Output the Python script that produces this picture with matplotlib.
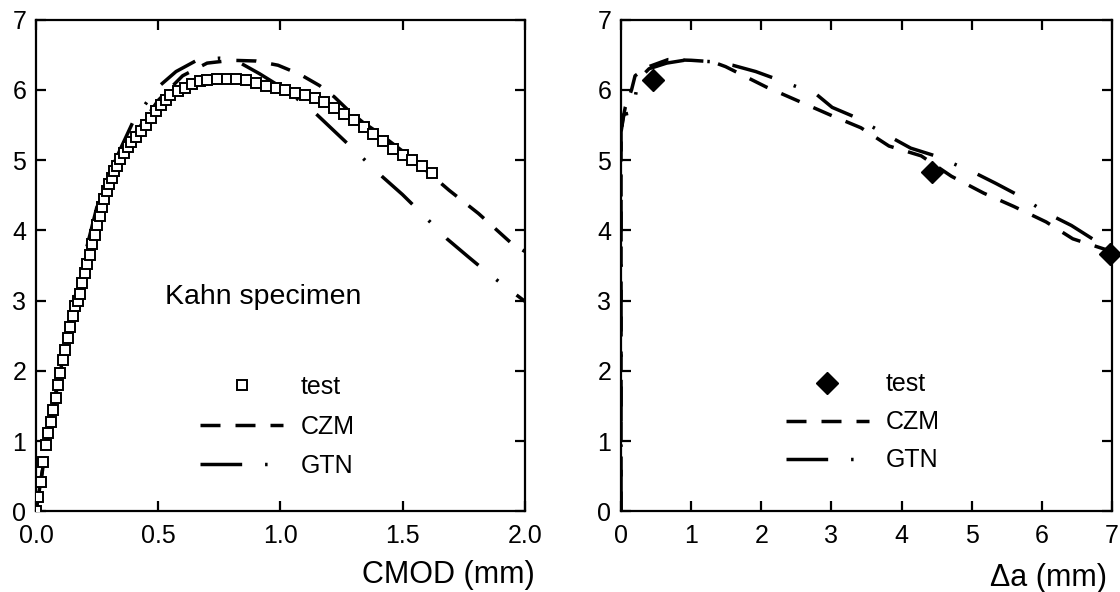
import matplotlib
matplotlib.use('Agg')
import matplotlib.pyplot as plt

plt.rcParams['font.family'] = ['Liberation Sans', 'DejaVu Sans']
plt.rcParams['lines.scale_dashes'] = False

# left panel: load vs CMOD
test_cmod = [0.0, 0.01, 0.02, 0.03, 0.04, 0.05, 0.06, 0.07, 0.08, 0.09, 0.10, 0.11, 0.12, 0.13,
             0.14, 0.15, 0.16, 0.17, 0.18, 0.19, 0.20, 0.21, 0.22, 0.23, 0.24, 0.25, 0.26, 0.27,
             0.28, 0.29, 0.30, 0.31, 0.32, 0.33, 0.345, 0.36, 0.375, 0.39, 0.41, 0.43, 0.45, 0.47,
             0.49, 0.51, 0.53, 0.55, 0.58, 0.61, 0.64, 0.67, 0.70, 0.74, 0.78, 0.82, 0.86, 0.90,
             0.94, 0.98, 1.02, 1.06, 1.10, 1.14, 1.18, 1.22, 1.26, 1.30, 1.34, 1.38, 1.42, 1.46,
             1.50, 1.54, 1.58, 1.62]
test_load = [0.0, 0.2, 0.42, 0.7, 0.95, 1.12, 1.28, 1.45, 1.62, 1.8, 1.97, 2.15, 2.3, 2.47,
             2.62, 2.78, 2.92, 3.0, 3.1, 3.25, 3.4, 3.52, 3.65, 3.8, 3.93, 4.07, 4.2, 4.33,
             4.44, 4.56, 4.66, 4.75, 4.84, 4.91, 5.02, 5.1, 5.18, 5.26, 5.33, 5.41, 5.5, 5.6,
             5.7, 5.78, 5.85, 5.92, 5.98, 6.03, 6.08, 6.12, 6.14, 6.15, 6.15, 6.15, 6.14, 6.1,
             6.06, 6.02, 6.0, 5.96, 5.92, 5.88, 5.82, 5.74, 5.66, 5.57, 5.47, 5.37, 5.27, 5.16,
             5.07, 5.0, 4.92, 4.82]

czm_cmod = [0.0, 0.05, 0.1, 0.15, 0.2, 0.3, 0.4, 0.5, 0.6, 0.7, 0.8, 0.9, 0.99, 1.08, 1.16,
            1.22, 1.28, 1.34, 1.40, 1.51, 1.60, 1.69, 1.81, 1.95, 2.0]
czm_load = [0.0, 1.1, 2.0, 2.85, 3.5, 4.7, 5.35, 5.85, 6.2, 6.38, 6.42, 6.41, 6.35, 6.22, 6.06,
            5.9, 5.7, 5.53, 5.39, 5.10, 4.84, 4.57, 4.24, 3.8, 3.7]

gtn_cmod = [0.0, 0.05, 0.1, 0.15, 0.2, 0.249, 0.307, 0.351, 0.395, 0.49, 0.573, 0.658, 0.75,
            0.811, 0.914, 1.016, 1.133, 1.221, 1.294, 1.418, 1.499, 1.572, 1.681, 1.766, 1.849,
            1.92, 2.0]
gtn_load = [0.0, 1.1, 2.05, 2.9, 3.65, 4.33, 4.86, 5.2, 5.53, 6.01, 6.26, 6.42, 6.45,
            6.43, 6.23, 6.01, 5.70, 5.41, 5.17, 4.76, 4.51, 4.26, 3.88, 3.63, 3.39,
            3.2, 2.99]

# right panel: load vs crack extension
test_da = [0.46, 4.43, 6.97]
test_p = [6.14, 4.83, 3.66]

czm_da = [0.0, 0.0, 0.02, 0.06, 0.15, 0.2, 0.37, 0.67, 1.0, 1.3, 1.49, 2.07, 2.30, 3.01, 3.42,
          3.82, 4.28, 4.71, 5.17, 5.60, 6.06, 6.44, 6.87, 7.0]
czm_p = [0.0, 5.3, 5.55, 5.75, 6.0, 6.2, 6.32, 6.43, 6.42, 6.4, 6.33, 6.04, 5.94, 5.63, 5.46,
         5.20, 5.06, 4.77, 4.53, 4.34, 4.12, 3.88, 3.74, 3.7]

gtn_da = [0.0, 0.0, 0.04, 0.17, 0.24, 0.4, 0.65, 0.9, 1.3, 1.59, 1.92, 2.25, 2.78, 3.01, 3.34,
          3.82, 4.13, 4.48, 5.04, 5.34, 5.70, 6.08, 6.42, 6.72, 6.92, 7.0]
gtn_p = [0.0, 5.4, 5.65, 5.68, 6.14, 6.3, 6.38, 6.42, 6.4, 6.35, 6.26, 6.14, 5.94, 5.75, 5.61,
         5.34, 5.17, 5.06, 4.82, 4.67, 4.48, 4.24, 4.07, 3.88, 3.81, 3.78]

czm_style = (0, (14.4, 10.8))
gtn_style = (0, (30, 16.5, 1.8, 16.5))
lw = 2.5
fs_tick = 18
fs_leg = 18
fs_label = 22

fig = plt.figure(figsize=(11.2, 5.92), dpi=100)
ax1 = fig.add_axes([0.0321, 0.136, 0.4366, 0.831])
ax2 = fig.add_axes([0.5545, 0.136, 0.4384, 0.831])

ax1.plot(czm_cmod, czm_load, color='black', lw=lw, ls=czm_style, dash_capstyle='butt', label='CZM', zorder=2)
ax1.plot(gtn_cmod, gtn_load, color='black', lw=lw, ls=gtn_style, dash_capstyle='butt', label='GTN', zorder=2)
ax1.plot(test_cmod, test_load, ls='none', marker='s', ms=7, mfc='white', mec='black', mew=1.4,
         label='test', zorder=3)
ax1.set_xlim(0, 2.0)
ax1.set_ylim(0, 7)
ax1.set_xticks([0.0, 0.5, 1.0, 1.5, 2.0])
ax1.set_xticklabels(['0.0', '0.5', '1.0', '1.5', '2.0'])
ax1.text(0.465, 0.437, 'Kahn specimen', transform=ax1.transAxes, ha='center', va='center', fontsize=20.5)
ax1.set_xlabel('CMOD (mm)', fontsize=fs_label, ha='right', va='center')
ax1.xaxis.set_label_coords(1.02, -0.13)

ax2.plot(czm_da, czm_p, color='black', lw=lw, ls=czm_style, dash_capstyle='butt', label='CZM', zorder=2)
ax2.plot(gtn_da, gtn_p, color='black', lw=lw, ls=gtn_style, dash_capstyle='butt', label='GTN', zorder=2)
ax2.plot(test_da, test_p, ls='none', marker='D', ms=11, color='black', label='test', zorder=3,
         clip_on=False)
ax2.set_xlim(0, 7)
ax2.set_ylim(0, 7)
ax2.set_xticks(range(8))
ax2.set_xlabel('\u0394a (mm)', fontsize=fs_label, ha='right', va='center')
ax2.xaxis.set_label_coords(0.99, -0.135)

for ax, anchor, sp in ((ax1, (0.336, 0.277), 0.62), (ax2, (0.335, 0.283), 0.56)):
    ax.set_yticks(range(8))
    for s in ax.spines.values():
        s.set_linewidth(1.6)
    ax.tick_params(direction='in', length=7, width=1.6, labelsize=fs_tick,
                   top=True, right=True)
    ax.tick_params(axis='x', pad=9)
    ax.tick_params(axis='y', pad=7)
    h, l = ax.get_legend_handles_labels()
    order = [2, 0, 1]
    ax.legend([h[i] for i in order], [l[i] for i in order], loc='upper left',
              bbox_to_anchor=anchor, frameon=False, fontsize=fs_leg, numpoints=1,
              handlelength=3.32, handletextpad=0.68, labelspacing=sp,
              borderpad=0, borderaxespad=0)

fig.savefig('out.png', dpi=100)
